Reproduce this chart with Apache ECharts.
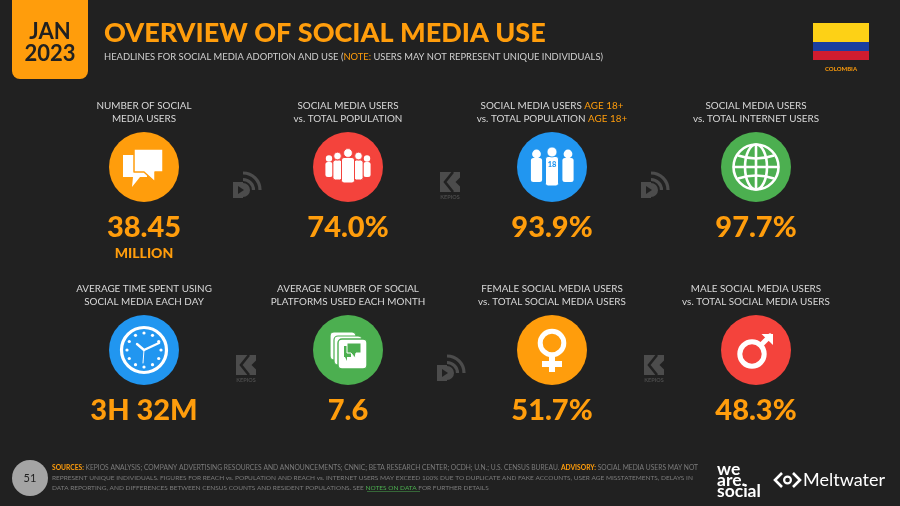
<!DOCTYPE html>
<html>
<head>
    <meta charset="utf-8">
    <title>Overview of social media use</title>
    <script src="https://cdn.jsdelivr.net/npm/echarts@6/dist/echarts.min.js"></script>
    <style>html,body{margin:0;background:#212121}</style>
</head>
<body>
<div id="main" style="width:900px;height:506px;"></div>
<script type="text/javascript">
var kpiHeadings = [
    'NUMBER OF SOCIAL\nMEDIA USERS',
    'SOCIAL MEDIA USERS\nvs. TOTAL POPULATION',
    'SOCIAL MEDIA USERS {o|AGE 18+}\nvs. TOTAL POPULATION {o|AGE 18+}',
    'SOCIAL MEDIA USERS\nvs. TOTAL INTERNET USERS',
    'AVERAGE TIME SPENT USING\nSOCIAL MEDIA EACH DAY',
    'AVERAGE NUMBER OF SOCIAL\nPLATFORMS USED EACH MONTH',
    'FEMALE SOCIAL MEDIA USERS\nvs. TOTAL SOCIAL MEDIA USERS',
    'MALE SOCIAL MEDIA USERS\nvs. TOTAL SOCIAL MEDIA USERS'
];
var kpiValues = ['38.45', '74.0%', '93.9%', '97.7%', '3H 32M', '7.6', '51.7%', '48.3%'];
var kpiUnits = ['MILLION', '', '', '', '', '', '', ''];
var kpiIcons = ['chat', 'crowd', 'adults', 'globe', 'clock', 'cards', 'female', 'male'];
var kpiColors = ['#ff9d0c', '#f4433c', '#2196f0', '#4caf50', '#2196f0', '#4caf50', '#ff9d0c', '#f4433c'];
var watermarks = ['reportal', 'kepios', 'reportal', 'kepios', 'reportal', 'kepios'];

var ORANGE = '#ff9d0c';
var WHITE = '#ffffff';
var MARK = '#4c4c4c';
var BG = '#212121';

var myChart = echarts.init(document.getElementById('main'));

// slot i -> [column, row]
function slot(i) {
    return [i % 4, Math.floor(i / 4)];
}
var slotData = kpiValues.map(function (v, i) {
    return slot(i).concat([i]);
});
var gapData = watermarks.map(function (w, i) {
    return [i % 3 + 0.5, Math.floor(i / 3), i];
});

function poly(points, fill, stroke, lineWidth) {
    return {
        type: 'polygon',
        shape: {points: points},
        style: {fill: fill || WHITE, stroke: stroke || null, lineWidth: lineWidth || 0, lineJoin: 'round'}
    };
}
function circle(cx, cy, r, fill, stroke, lineWidth) {
    return {
        type: 'circle',
        shape: {cx: cx, cy: cy, r: r},
        style: {fill: fill || WHITE, stroke: stroke || null, lineWidth: lineWidth || 0}
    };
}
function rect(x, y, w, h, r, fill, stroke, lineWidth) {
    return {
        type: 'rect',
        shape: {x: x, y: y, width: w, height: h, r: r || 0},
        style: {fill: fill || WHITE, stroke: stroke || null, lineWidth: lineWidth || 0}
    };
}
function line(x1, y1, x2, y2, width, color) {
    return {
        type: 'line',
        shape: {x1: x1, y1: y1, x2: x2, y2: y2},
        style: {stroke: color || WHITE, lineWidth: width, lineCap: 'round'}
    };
}
function person(x, headY, headR, bodyTop, bodyBottom, halfW, edge) {
    return [
        rect(x - halfW, bodyTop, halfW * 2, bodyBottom - bodyTop, 2.5, WHITE, edge, edge ? 1 : 0),
        circle(x, headY, headR, WHITE, edge, edge ? 0.8 : 0)
    ];
}

var iconDraw = {
    chat: function (c) {
        return [
            poly([[-21, -12], [3, -12], [3, 10], [-4, 10], [-12, 20], [-11, 10], [-21, 10]]),
            poly([[-10, -18], [19, -18], [19, 5], [11, 5], [11, 15], [0, 5], [-10, 5]], WHITE, c, 1.5)
        ];
    },
    crowd: function (c) {
        return [].concat(
            person(-19, -8.5, 3.2, -5, 10, 3.6),
            person(19, -8.5, 3.2, -5, 10, 3.6),
            person(-10.5, -11, 3.8, -7, 13, 4.6, c),
            person(10.5, -11, 3.8, -7, 13, 4.6, c),
            person(0, -14, 4.4, -9.5, 16, 6.5, c)
        );
    },
    adults: function (c) {
        return [].concat(
            person(-15.5, -13, 4.4, -9, 15, 5.6),
            person(16, -13, 4.4, -9, 15, 5.6),
            person(0, -15, 5, -10.5, 19, 6.5, c),
            [{
                type: 'text',
                style: {
                    text: '18', x: 0, y: -2, fill: c, align: 'center', verticalAlign: 'middle',
                    font: '900 7.5px Lato'
                }
            }]
        );
    },
    globe: function () {
        var ringStyle = {fill: null, stroke: WHITE, lineWidth: 2.6};
        return [
            {type: 'circle', shape: {cx: 0, cy: 0, r: 22.5}, style: ringStyle},
            {type: 'ellipse', shape: {cx: 0, cy: 0, rx: 11, ry: 22.5}, style: ringStyle},
            line(0, -22, 0, 22, 2.6),
            line(-22, 0, 22, 0, 2.6),
            {type: 'path', shape: {pathData: 'M-18 -13 Q0 -7 18 -13', x: -18, y: -13, width: 36, height: 6},
                style: ringStyle},
            {type: 'path', shape: {pathData: 'M-18 13 Q0 7 18 13', x: -18, y: 7, width: 36, height: 6},
                style: ringStyle}
        ];
    },
    clock: function () {
        var parts = [
            {type: 'circle', shape: {cx: 0, cy: 0, r: 22.5}, style: {fill: null, stroke: WHITE, lineWidth: 3.2}},
            line(0, 0, -7, -6, 2.4),
            line(0, 0, 15, -7, 2.4),
            line(0, 0, -1, 13, 1)
        ];
        for (var h = 0; h < 12; h++) {
            var a = h * Math.PI / 6;
            parts.push(circle(17 * Math.sin(a), -17 * Math.cos(a), 1.6));
        }
        return parts;
    },
    cards: function (c) {
        return [
            rect(-18, -18, 26, 28, 4, WHITE, c, 1.2),
            rect(-14, -14, 28, 29, 4, WHITE, c, 1.2),
            rect(-10, -11, 29, 30, 4, WHITE, c, 1.4),
            poly([[-4, -4], [3, -4], [3, 7], [-1, 7], [-1, 11], [-3, 7], [-4, 7]], c),
            poly([[-1, -7], [13, -7], [13, 3], [8, 3], [7, 8], [3, 3], [-1, 3]], c, WHITE, 1)
        ];
    },
    female: function () {
        return [
            {type: 'circle', shape: {cx: 0, cy: -7, r: 11.8}, style: {fill: null, stroke: WHITE, lineWidth: 5}},
            rect(-3, 6, 6, 16, 0),
            rect(-10, 11, 20, 6, 0)
        ];
    },
    male: function () {
        return [
            {type: 'circle', shape: {cx: -4, cy: 4, r: 12.2}, style: {fill: null, stroke: WHITE, lineWidth: 5}},
            line(5, -5, 14, -14, 5),
            poly([[5.5, -16], [17, -16], [17, -5]])
        ];
    }
};

var markDraw = {
    reportal: function () {
        var arcStyle = {fill: null, stroke: MARK, lineWidth: 3.2};
        return [
            {type: 'arc', shape: {cx: -3, cy: 6, r: 17, startAngle: -Math.PI / 2, endAngle: 0, clockwise: true}, style: arcStyle},
            {type: 'arc', shape: {cx: -3, cy: 6, r: 10.5, startAngle: -Math.PI / 2, endAngle: 0, clockwise: true}, style: arcStyle},
            circle(-3, 6, 7, MARK),
            rect(-13, -2, 10, 16, 0, MARK),
            poly([[-8, 2], [-8, 10], [-2, 6]], BG)
        ];
    },
    kepios: function () {
        return [
            rect(-10, -12, 20, 20, 0, MARK),
            {
                type: 'polyline',
                shape: {points: [[3, -12], [-5, -2], [3, 8]]},
                style: {fill: null, stroke: BG, lineWidth: 2.6}
            },
            poly([[10, -6.5], [10, 2.5], [5.5, -2]], BG),
            {
                type: 'text',
                style: {
                    text: 'KEPIOS', x: 0, y: 13, fill: MARK, align: 'center', verticalAlign: 'middle',
                    font: 'bold 5.5px Lato'
                }
            }
        ];
    }
};

function valueLabelSeries(data, formatter, offsetY, fontSize) {
    return {
        type: 'scatter',
        data: data,
        symbolSize: 1,
        silent: true,
        itemStyle: {color: 'rgba(0,0,0,0)', opacity: 1},
        label: {
            show: true,
            position: 'inside',
            offset: [0, offsetY],
            formatter: formatter,
            color: ORANGE,
            fontFamily: 'Lato',
            fontWeight: 900,
            fontSize: fontSize
        }
    };
}

var footerLines = [
    '{o|SOURCES:} KEPIOS ANALYSIS; COMPANY ADVERTISING RESOURCES AND ANNOUNCEMENTS; CNNIC; BETA RESEARCH CENTER; OCDH; U.N.; U.S. CENSUS BUREAU. {o|ADVISORY:} SOCIAL MEDIA USERS MAY NOT',
    'REPRESENT UNIQUE INDIVIDUALS. FIGURES FOR REACH vs. POPULATION AND REACH vs. INTERNET USERS MAY EXCEED 100% DUE TO DUPLICATE AND FAKE ACCOUNTS, USER AGE MISSTATEMENTS, DELAYS IN',
    'DATA REPORTING, AND DIFFERENCES BETWEEN CENSUS COUNTS AND RESIDENT POPULATIONS. SEE {g|NOTES ON DATA} FOR FURTHER DETAILS'
];

function plainText(text, x, y, font, fill, align) {
    return {
        type: 'text',
        x: x,
        y: y,
        style: {text: text, font: font, fill: fill, align: align || 'left', verticalAlign: 'middle'}
    };
}
function footerText(text, y, size) {
    return {
        type: 'text',
        x: 52,
        y: y,
        style: {
            text: text,
            fontFamily: 'Lato',
            fontSize: size,
            fill: '#7c7c7c',
            verticalAlign: 'middle',
            rich: {
                o: {fill: ORANGE, fontFamily: 'Lato', fontWeight: 'bold', fontSize: size},
                g: {fill: '#4caf50', fontFamily: 'Lato', fontSize: size}
            }
        }
    };
}

var option = {
    backgroundColor: BG,
    animation: false,
    title: [{
        text: 'OVERVIEW OF SOCIAL MEDIA USE',
        left: 104,
        top: 20,
        padding: 0,
        textStyle: {color: ORANGE, fontFamily: 'Lato', fontWeight: 900, fontSize: 27}
    }, {
        text: 'HEADLINES FOR SOCIAL MEDIA ADOPTION AND USE ({o|NOTE:} USERS MAY NOT REPRESENT UNIQUE INDIVIDUALS)',
        left: 104,
        top: 52,
        padding: 0,
        textStyle: {
            color: '#d0d0d0', fontFamily: 'Lato', fontWeight: 'normal', fontSize: 9.4,
            rich: {o: {color: ORANGE, fontFamily: 'Lato', fontSize: 9.4}}
        }
    }],
    grid: {left: 42, top: 75.5, width: 816, height: 366},
    xAxis: {type: 'value', min: -0.5, max: 3.5, show: false},
    yAxis: {type: 'value', min: -0.5, max: 1.5, inverse: true, show: false},
    series: [{
        // the coloured discs
        type: 'scatter',
        data: slotData,
        symbol: 'circle',
        symbolSize: 70,
        silent: true,
        itemStyle: {
            opacity: 1,
            color: function (p) { return kpiColors[p.value[2]]; }
        },
        z: 2
    }, {
        // glyphs on the discs
        type: 'custom',
        data: slotData,
        silent: true,
        z: 3,
        renderItem: function (params, api) {
            var i = api.value(2);
            var pt = api.coord([api.value(0), api.value(1)]);
            return {
                type: 'group',
                x: pt[0],
                y: pt[1],
                children: iconDraw[kpiIcons[i]](kpiColors[i])
            };
        }
    }, {
        // watermarks between the discs
        type: 'custom',
        data: gapData,
        silent: true,
        z: 1,
        renderItem: function (params, api) {
            var pt = api.coord([api.value(0), api.value(1)]);
            return {
                type: 'group',
                x: pt[0],
                y: pt[1] + 17,
                children: markDraw[watermarks[api.value(2)]]()
            };
        }
    }, {
        // headings over the discs
        type: 'scatter',
        data: slotData,
        symbolSize: 1,
        silent: true,
        itemStyle: {color: 'rgba(0,0,0,0)', opacity: 1},
        label: {
            show: true,
            position: 'inside',
            offset: [0, -55],
            formatter: function (p) { return kpiHeadings[p.value[2]]; },
            color: '#d8d8d8',
            fontFamily: 'Lato',
            fontSize: 9.9,
            lineHeight: 13,
            align: 'center',
            rich: {o: {color: ORANGE, fontFamily: 'Lato', fontSize: 9.9, lineHeight: 13}}
        }
    },
    valueLabelSeries(slotData, function (p) { return kpiValues[p.value[2]]; }, 60.5, 29),
    valueLabelSeries(slotData, function (p) { return kpiUnits[p.value[2]]; }, 86, 14)
    ],
    graphic: [
        {
            type: 'rect',
            shape: {x: 12, y: -10, width: 76, height: 89, r: 8},
            style: {fill: ORANGE}
        },
        plainText('JAN', 50, 32, 'bold 22px Lato', BG, 'center'),
        plainText('2023', 50, 54, 'bold 22px Lato', BG, 'center'),
        {type: 'rect', shape: {x: 813, y: 23, width: 56, height: 19}, style: {fill: '#fdd116'}},
        {type: 'rect', shape: {x: 813, y: 42, width: 56, height: 9}, style: {fill: '#1a3fa0'}},
        {type: 'rect', shape: {x: 813, y: 51, width: 56, height: 9}, style: {fill: '#d01c2f'}},
        plainText('COLOMBIA', 841, 69, 'bold 6px Lato', ORANGE, 'center'),
        {type: 'circle', shape: {cx: 30, cy: 478, r: 18}, style: {fill: '#a4a4a4'}},
        plainText('51', 30, 478, '11px Lato', BG, 'center'),
        footerText(footerLines[0], 468, 6.68),
        footerText(footerLines[1], 478, 6.5),
        footerText(footerLines[2], 488, 6.5),
        {type: 'line', shape: {x1: 367, y1: 491.5, x2: 420, y2: 491.5}, style: {stroke: '#4caf50', lineWidth: 0.5}},
        plainText('we', 717, 469, 'bold 17.5px Lato', WHITE),
        plainText('are.', 717, 480, 'bold 17.5px Lato', WHITE),
        plainText('social', 717, 491, 'bold 17.5px Lato', WHITE),
        {
            type: 'polyline',
            shape: {points: [[782, 473], [775, 480], [782, 487]]},
            style: {fill: null, stroke: WHITE, lineWidth: 2.6}
        },
        {
            type: 'polyline',
            shape: {points: [[793, 473], [800, 480], [793, 487]]},
            style: {fill: null, stroke: WHITE, lineWidth: 2.6}
        },
        {type: 'circle', shape: {cx: 787.5, cy: 480, r: 3.4}, style: {fill: null, stroke: WHITE, lineWidth: 2.2}},
        plainText('Meltwater', 803, 480, '18px Lato', WHITE)
    ]
};

myChart.setOption(option);
</script>
</body>
</html>
